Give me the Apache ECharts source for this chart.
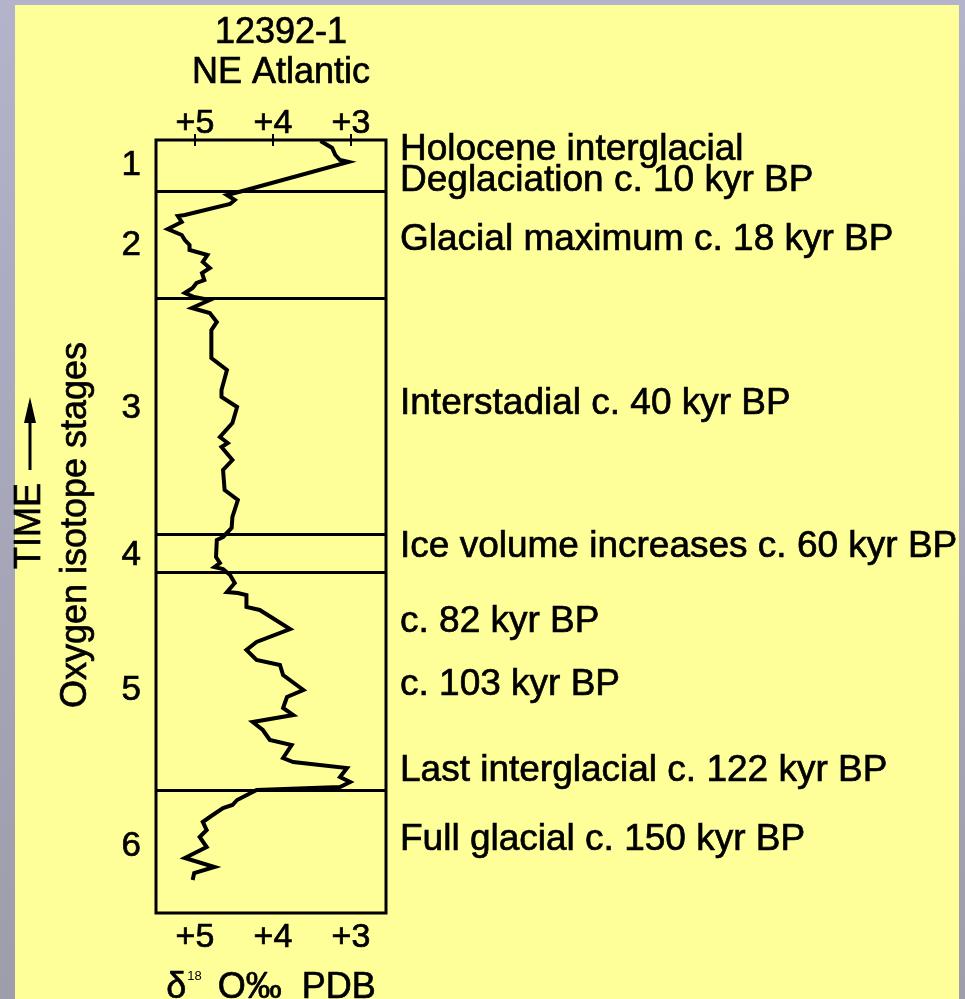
<!DOCTYPE html>
<html>
<head>
<meta charset="utf-8">
<script src="https://cdn.jsdelivr.net/npm/echarts@6/dist/echarts.min.js"></script>
<style>
  html, body { margin: 0; padding: 0; width: 965px; height: 999px; overflow: hidden; }
  body { background: linear-gradient(180deg, #b3b3cb 0%, #a6a6b8 55%, #9d9dab 100%); position: relative; }
  #panel { position: absolute; left: 15px; top: 5px; width: 944px; height: 994px; background: #ffff99; }
  #chart { position: absolute; left: 0; top: 0; width: 965px; height: 999px; }
</style>
</head>
<body>
<div id="panel"></div>
<div id="chart"></div>
<script>
// Core 12392-1: depth down the core (top = 0) and benthic δ18O (‰ PDB)
const coreDepth = [1, 8, 15, 20, 22, 51, 55, 60, 64, 75, 76, 82, 89, 95, 100, 105, 110, 115, 122, 128,
  133, 140, 143, 148, 153, 157, 160, 168, 173, 182, 190, 218, 230, 250, 257, 267, 283, 297, 303, 307,
  320, 330, 350, 360, 377, 388, 397, 400, 417, 423, 427, 429, 435, 443, 452, 453, 455, 467, 470, 489,
  502, 510, 520, 525, 535, 550, 557, 568, 575, 582, 590, 600, 605, 618, 622, 628, 637, 642, 647, 650,
  660, 665, 668, 677, 682, 690, 697, 707, 718, 727, 733, 740];
const delta18O = [3.39, 3.24, 3.20, 3.14, 3.03, 4.39, 4.59, 4.49, 4.55, 5.13, 5.22, 5.17, 5.35, 5.17, 5.13, 5.07, 5.07, 4.84, 4.90, 4.81,
  4.91, 4.88, 4.98, 5.03, 5.13, 5.01, 4.81, 5.04, 4.81, 4.72, 4.79, 4.79, 4.59, 4.66, 4.66, 4.46, 4.52, 4.68, 4.58, 4.66,
  4.52, 4.64, 4.62, 4.45, 4.52, 4.53, 4.64, 4.72, 4.73, 4.68, 4.75, 4.64, 4.55, 4.49, 4.59, 4.45, 4.34, 4.34, 4.17, 3.78,
  4.21, 4.34, 4.21, 3.91, 3.87, 3.61, 3.82, 3.87, 3.74, 4.26, 4.13, 4.04, 3.76, 3.87, 3.74, 3.05, 3.14, 3.01, 3.14, 4.21,
  4.46, 4.52, 4.64, 4.81, 4.90, 4.85, 4.94, 4.85, 5.13, 4.75, 5.01, 5.03];

// Isotope axis ticks
const isoTicks = [5, 4, 3];

// Oxygen isotope stages: label, depth of label, boundaries between stages
const stageNames = ['1', '2', '3', '4', '5', '6'];
const stageLabelDepth = [25, 105, 268, 415, 550, 706];
const stageBoundaries = [51, 158, 394, 432, 650];

// Event annotations along the core
const eventTexts = [
  'Holocene interglacial',
  'Deglaciation c. 10 kyr BP',
  'Glacial maximum c. 18 kyr BP',
  'Interstadial c. 40 kyr BP',
  'Ice volume increases c. 60 kyr BP',
  'c. 82 kyr BP',
  'c. 103 kyr BP',
  'Last interglacial c. 122 kyr BP',
  'Full glacial c. 150 kyr BP'
];
const eventDepth = [10, 41, 100, 264, 407, 482, 545, 631, 700];

const FONT = '"Liberation Sans", Arial, Helvetica, sans-serif';
// slight outline thickens the glyphs to a heavier print weight
const INK = { color: '#000', textBorderColor: '#000', textBorderWidth: 0.7 };

const chart = echarts.init(document.getElementById('chart'), null, { renderer: 'canvas' });

const isoAxisBase = {
  type: 'value',
  min: 2.55,
  max: 5.5,
  inverse: true,
  axisLine: { show: false },
  splitLine: { show: false },
  axisTick: { show: true, inside: true, length: 6, customValues: isoTicks, lineStyle: { color: '#000', width: 2 } },
  axisLabel: Object.assign({
    customValues: isoTicks,
    formatter: v => '+' + v,
    fontSize: 34, fontFamily: FONT, hideOverlap: false
  }, INK)
};

const depthAxisBase = {
  type: 'value',
  min: 0,
  max: 773,
  inverse: true,
  axisLine: { show: false },
  splitLine: { show: false },
  axisTick: { show: false }
};

// the closely spaced event notes are split over two right-hand axes so none is dropped
function eventAxis(parity) {
  const vals = eventDepth.filter((d, i) => i % 2 === parity);
  return Object.assign({}, depthAxisBase, {
    position: 'right',
    offset: 0,
    axisLabel: Object.assign({
      customValues: vals,
      formatter: v => eventTexts[eventDepth.indexOf(v)],
      fontSize: 37, fontFamily: FONT, margin: 14, align: 'left', hideOverlap: false,
      showMinLabel: true, showMaxLabel: true
    }, INK)
  });
}

chart.setOption({
  backgroundColor: 'transparent',
  animation: false,
  title: {
    text: '12392-1\nNE Atlantic',
    left: 276,
    top: 8,
    textAlign: 'center',
    textStyle: Object.assign({ fontSize: 36, fontWeight: 'normal', fontFamily: FONT, lineHeight: 40 }, INK)
  },
  grid: {
    left: 156, right: 579, top: 140, bottom: 86,
    outerBoundsMode: 'none',
    containLabel: false,
    show: true, borderColor: '#000', borderWidth: 3, backgroundColor: 'transparent'
  },
  xAxis: [
    Object.assign({}, isoAxisBase, {
      position: 'top',
      axisLabel: Object.assign({}, isoAxisBase.axisLabel, { margin: -1 })
    }),
    Object.assign({}, isoAxisBase, {
      position: 'bottom',
      axisLabel: Object.assign({}, isoAxisBase.axisLabel, { margin: 8 }),
      name: '{d|δ}{s|18}{d| O‰  PDB}',
      nameLocation: 'middle',
      nameGap: 57,
      nameTextStyle: {
        color: '#000',
        rich: {
          d: Object.assign({ fontSize: 36, fontFamily: FONT }, INK),
          s: { fontSize: 13, fontFamily: FONT, color: '#000', verticalAlign: 'top', padding: [0, 6, 0, 1] }
        }
      }
    })
  ],
  yAxis: [
    Object.assign({}, depthAxisBase, {
      position: 'left',
      axisLabel: Object.assign({
        customValues: stageLabelDepth,
        formatter: v => stageNames[stageLabelDepth.indexOf(v)],
        fontSize: 35, fontFamily: FONT, margin: 15, hideOverlap: false
      }, INK)
    }),
    eventAxis(0),
    eventAxis(1)
  ],
  series: [{
    type: 'line',
    xAxisIndex: 0,
    yAxisIndex: 0,
    data: coreDepth.map((d, i) => [delta18O[i], d]),
    showSymbol: false,
    symbol: 'none',
    lineStyle: { color: '#000', width: 4, join: 'miter' },
    markLine: {
      silent: true,
      symbol: ['none', 'none'],
      label: { show: false },
      lineStyle: { color: '#000', width: 3, type: 'solid' },
      data: stageBoundaries.map(b => ({ yAxis: b }))
    }
  }],
  graphic: [
    {
      type: 'text',
      x: 76, y: 525,
      rotation: Math.PI / 2,
      style: { text: 'Oxygen isotope stages', fill: '#000', stroke: '#000', lineWidth: 0.7, font: '36px ' + FONT, align: 'center', verticalAlign: 'middle' }
    },
    {
      type: 'text',
      x: 30, y: 526,
      rotation: Math.PI / 2,
      style: { text: 'TIME', fill: '#000', stroke: '#000', lineWidth: 0.7, font: '36px ' + FONT, align: 'center', verticalAlign: 'middle' }
    },
    {
      type: 'line',
      shape: { x1: 30, y1: 470, x2: 30, y2: 418 },
      style: { stroke: '#000', lineWidth: 3 }
    },
    {
      type: 'polygon',
      shape: { points: [[30, 397], [24, 423], [36, 423]] },
      style: { fill: '#000' }
    }
  ]
});
</script>
</body>
</html>
